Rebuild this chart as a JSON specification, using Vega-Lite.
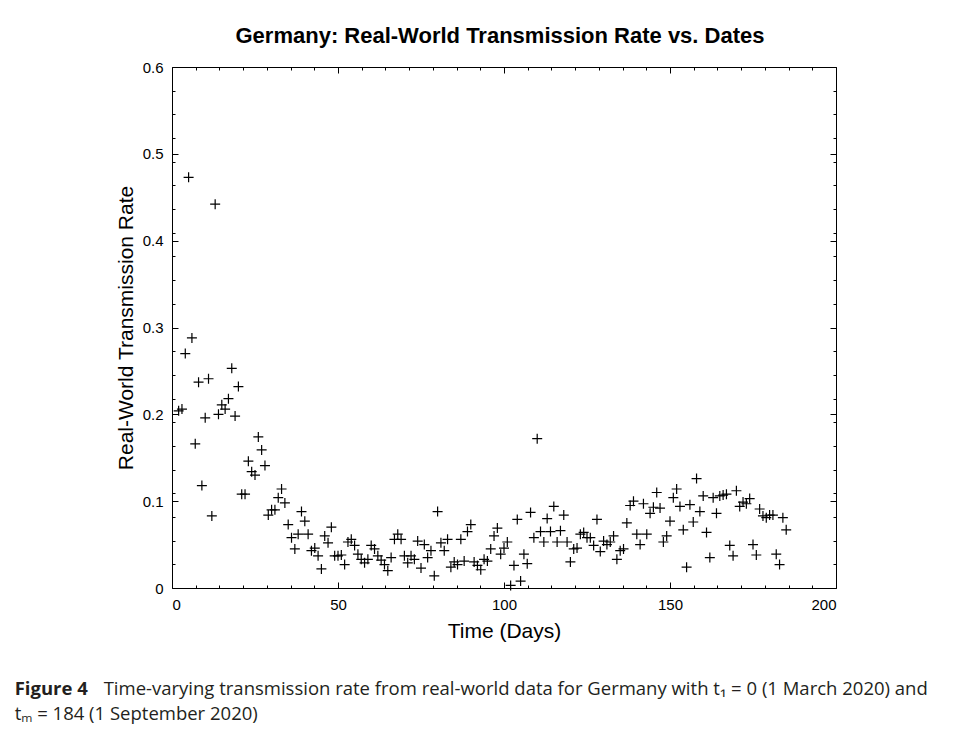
{
 "$schema": "https://vega.github.io/schema/vega-lite/v6.json",
 "background": "white",
 "padding": {"left": 14, "top": 24, "right": 5, "bottom": 5},
 "config": {
  "view": {"stroke": "#000", "strokeWidth": 1},
  "font": "Liberation Sans",
  "axis": {"grid": false, "labelColor": "#000", "titleColor": "#000", "tickColor": "#000", "labelFont": "Liberation Sans", "titleFont": "Liberation Sans", "titleFontWeight": "normal", "labelFontSize": 15, "titleFontSize": 21}
 },
 "title": {"text": "Figure 4", "subtitle": "tₘ = 184 (1 September 2020)", "orient": "bottom", "anchor": "start", "font": "Open Sans", "fontSize": 18.5, "fontWeight": "bold", "color": "#231f20", "subtitleFont": "Open Sans", "subtitleFontSize": 18.5, "subtitleColor": "#231f20", "subtitlePadding": 6, "dx": -89, "dy": -18, "offset": 0},
 "datasets": {
  "pts": [
   {"t":2,"r":0.204},{"t":3,"r":0.206},{"t":4,"r":0.270},{"t":5,"r":0.473},{"t":6,"r":0.288},{"t":7,"r":0.166},{"t":8,"r":0.237},{"t":9,"r":0.118},{"t":10,"r":0.196},{"t":11,"r":0.241},{"t":12,"r":0.083},{"t":13,"r":0.442},{"t":14,"r":0.200},{"t":15,"r":0.211},{"t":16,"r":0.206},{"t":17,"r":0.218},{"t":18,"r":0.253},{"t":19,"r":0.198},{"t":20,"r":0.232},
   {"t":21,"r":0.108},{"t":22,"r":0.108},{"t":23,"r":0.146},{"t":24,"r":0.134},{"t":25,"r":0.130},{"t":26,"r":0.174},{"t":27,"r":0.159},{"t":28,"r":0.141},{"t":29,"r":0.084},{"t":30,"r":0.090},
   {"t":31,"r":0.090},{"t":32,"r":0.104},{"t":33,"r":0.114},{"t":34,"r":0.098},{"t":35,"r":0.073},{"t":36,"r":0.058},{"t":37,"r":0.045},{"t":38,"r":0.062},{"t":39,"r":0.088},{"t":40,"r":0.077},
   {"t":41,"r":0.062},{"t":42,"r":0.043},{"t":43,"r":0.046},{"t":44,"r":0.037},{"t":45,"r":0.022},{"t":46,"r":0.060},{"t":47,"r":0.052},{"t":48,"r":0.070},{"t":49,"r":0.037},{"t":50,"r":0.037},
   {"t":51,"r":0.038},{"t":52,"r":0.027},{"t":53,"r":0.053},{"t":54,"r":0.056},{"t":55,"r":0.049},{"t":56,"r":0.039},{"t":57,"r":0.033},{"t":58,"r":0.029},{"t":59,"r":0.033},{"t":60,"r":0.049},
   {"t":61,"r":0.045},{"t":62,"r":0.037},{"t":63,"r":0.032},{"t":64,"r":0.027},{"t":65,"r":0.020},{"t":66,"r":0.035},{"t":67,"r":0.056},{"t":68,"r":0.062},{"t":69,"r":0.056},{"t":70,"r":0.037},
   {"t":71,"r":0.029},{"t":72,"r":0.037},{"t":73,"r":0.033},{"t":74,"r":0.054},{"t":75,"r":0.023},{"t":76,"r":0.050},{"t":77,"r":0.035},{"t":78,"r":0.043},{"t":79,"r":0.014},{"t":80,"r":0.088},
   {"t":81,"r":0.052},{"t":82,"r":0.043},{"t":83,"r":0.056},{"t":84,"r":0.024},{"t":85,"r":0.030},{"t":86,"r":0.027},{"t":87,"r":0.056},{"t":88,"r":0.031},{"t":89,"r":0.065},{"t":90,"r":0.073},
   {"t":91,"r":0.030},{"t":92,"r":0.026},{"t":93,"r":0.021},{"t":94,"r":0.033},{"t":95,"r":0.031},{"t":96,"r":0.045},{"t":97,"r":0.060},{"t":98,"r":0.069},{"t":99,"r":0.039},{"t":100,"r":0.046},
   {"t":101,"r":0.053},{"t":102,"r":0.003},{"t":103,"r":0.026},{"t":104,"r":0.079},{"t":105,"r":0.008},{"t":106,"r":0.039},{"t":107,"r":0.028},{"t":108,"r":0.087},{"t":109,"r":0.058},{"t":110,"r":0.172},
   {"t":111,"r":0.065},{"t":112,"r":0.053},{"t":113,"r":0.080},{"t":114,"r":0.065},{"t":115,"r":0.094},{"t":116,"r":0.053},{"t":117,"r":0.066},{"t":118,"r":0.084},{"t":119,"r":0.053},{"t":120,"r":0.030},
   {"t":121,"r":0.045},{"t":122,"r":0.046},{"t":123,"r":0.062},{"t":124,"r":0.064},{"t":125,"r":0.058},{"t":126,"r":0.058},{"t":127,"r":0.049},{"t":128,"r":0.079},{"t":129,"r":0.042},{"t":130,"r":0.054},
   {"t":131,"r":0.050},{"t":132,"r":0.053},{"t":133,"r":0.060},{"t":134,"r":0.033},{"t":135,"r":0.043},{"t":136,"r":0.045},{"t":137,"r":0.075},{"t":138,"r":0.095},{"t":139,"r":0.100},{"t":140,"r":0.062},
   {"t":141,"r":0.050},{"t":142,"r":0.097},{"t":143,"r":0.062},{"t":144,"r":0.086},{"t":145,"r":0.093},{"t":146,"r":0.110},{"t":147,"r":0.092},{"t":148,"r":0.053},{"t":149,"r":0.060},{"t":150,"r":0.077},
   {"t":151,"r":0.104},{"t":152,"r":0.114},{"t":153,"r":0.094},{"t":154,"r":0.067},{"t":155,"r":0.024},{"t":156,"r":0.096},{"t":157,"r":0.076},{"t":158,"r":0.126},{"t":159,"r":0.088},{"t":160,"r":0.106},
   {"t":161,"r":0.064},{"t":162,"r":0.035},{"t":163,"r":0.104},{"t":164,"r":0.086},{"t":165,"r":0.106},{"t":166,"r":0.107},{"t":167,"r":0.108},{"t":168,"r":0.049},{"t":169,"r":0.037},{"t":170,"r":0.112},
   {"t":171,"r":0.094},{"t":172,"r":0.099},{"t":173,"r":0.097},{"t":174,"r":0.103},{"t":175,"r":0.050},{"t":176,"r":0.038},{"t":177,"r":0.091},{"t":178,"r":0.083},{"t":179,"r":0.081},{"t":180,"r":0.084},
   {"t":181,"r":0.084},{"t":182,"r":0.039},{"t":183,"r":0.027},{"t":184,"r":0.081},{"t":185,"r":0.067}
  ]
 },
 "vconcat": [
  {
   "title": {"text": "Time-varying transmission rate from real-world data for Germany with t₁ = 0 (1 March 2020) and", "orient": "bottom", "anchor": "start", "font": "Open Sans", "fontSize": 18.5, "fontWeight": "normal", "color": "#231f20", "dx": -11, "offset": 38},
   "vconcat": [
    {
     "title": {"text": "Germany: Real-World Transmission Rate vs. Dates", "font": "Liberation Sans", "fontSize": 22, "fontWeight": "bold", "color": "#000", "offset": 12, "frame": "group", "anchor": "middle", "dx": -4},
     "width": 664,
     "height": 521,
     "data": {"name": "pts"},
     "layer": [
      {
       "mark": {"type": "point", "shape": "M-1,0L1,0M0,-1L0,1", "filled": false, "stroke": "#000", "strokeWidth": 1.2, "size": 100, "opacity": 1},
       "encoding": {
        "x": {"field": "t", "type": "quantitative", "scale": {"domain": [0, 200], "nice": false, "zero": false},
              "axis": {"orient": "bottom", "values": [0, 50, 100, 150, 200], "ticks": false, "domain": false, "labelPadding": 9, "title": "Time (Days)", "titlePadding": 8}},
        "y": {"field": "r", "type": "quantitative", "scale": {"domain": [0, 0.6], "nice": false},
              "axis": {"orient": "left", "values": [0, 0.1, 0.2, 0.3, 0.4, 0.5, 0.6], "ticks": false, "domain": false, "labelPadding": 9, "labelExpr": "datum.value === 0 ? '0' : format(datum.value, '.1f')", "title": "Real-World Transmission Rate", "titlePadding": 6}}
       }
      },
      {
       "mark": {"type": "point", "opacity": 0},
       "encoding": {
        "x": {"field": "t", "type": "quantitative", "axis": {"orient": "bottom", "values": [0, 50, 100, 150, 200], "labels": false, "domain": false, "tickSize": 6, "offset": -6, "title": null}},
        "y": {"field": "r", "type": "quantitative", "axis": {"orient": "left", "values": [0, 0.1, 0.2, 0.3, 0.4, 0.5, 0.6], "labels": false, "domain": false, "tickSize": 6, "offset": -6, "title": null}}
       }
      },
      {
       "mark": {"type": "point", "opacity": 0},
       "encoding": {
        "x": {"field": "t", "type": "quantitative", "axis": {"orient": "top", "values": [0, 50, 100, 150, 200], "labels": false, "domain": false, "tickSize": 6, "offset": -6, "title": null}},
        "y": {"field": "r", "type": "quantitative", "axis": {"orient": "right", "values": [0, 0.1, 0.2, 0.3, 0.4, 0.5, 0.6], "labels": false, "domain": false, "tickSize": 6, "offset": -6, "title": null}}
       }
      },
      {
       "mark": {"type": "point", "opacity": 0},
       "encoding": {
        "x": {"field": "t", "type": "quantitative", "axis": {"orient": "bottom", "values": [7.142857, 14.285714, 21.428571, 28.571429, 35.714286, 42.857143, 57.142857, 64.285714, 71.428571, 78.571429, 85.714286, 92.857143, 107.142857, 114.285714, 121.428571, 128.571429, 135.714286, 142.857143, 157.142857, 164.285714, 171.428571, 178.571429, 185.714286, 192.857143], "labels": false, "domain": false, "tickSize": 3, "offset": -3, "title": null}},
        "y": {"field": "r", "type": "quantitative", "axis": {"orient": "left", "values": [0.027273, 0.054545, 0.081818, 0.109091, 0.136364, 0.163636, 0.190909, 0.218182, 0.245455, 0.272727, 0.3, 0.327273, 0.354545, 0.381818, 0.409091, 0.436364, 0.463636, 0.490909, 0.518182, 0.545455, 0.572727], "labels": false, "domain": false, "tickSize": 3, "offset": -3, "title": null}}
       }
      },
      {
       "mark": {"type": "point", "opacity": 0},
       "encoding": {
        "x": {"field": "t", "type": "quantitative", "axis": {"orient": "top", "values": [7.142857, 14.285714, 21.428571, 28.571429, 35.714286, 42.857143, 57.142857, 64.285714, 71.428571, 78.571429, 85.714286, 92.857143, 107.142857, 114.285714, 121.428571, 128.571429, 135.714286, 142.857143, 157.142857, 164.285714, 171.428571, 178.571429, 185.714286, 192.857143], "labels": false, "domain": false, "tickSize": 3, "offset": -3, "title": null}},
        "y": {"field": "r", "type": "quantitative", "axis": {"orient": "right", "values": [0.027273, 0.054545, 0.081818, 0.109091, 0.136364, 0.163636, 0.190909, 0.218182, 0.245455, 0.272727, 0.3, 0.327273, 0.354545, 0.381818, 0.409091, 0.436364, 0.463636, 0.490909, 0.518182, 0.545455, 0.572727], "labels": false, "domain": false, "tickSize": 3, "offset": -3, "title": null}}
       }
      }
     ],
     "resolve": {"axis": {"x": "independent", "y": "independent"}}
    }
   ]
  }
 ]
}
